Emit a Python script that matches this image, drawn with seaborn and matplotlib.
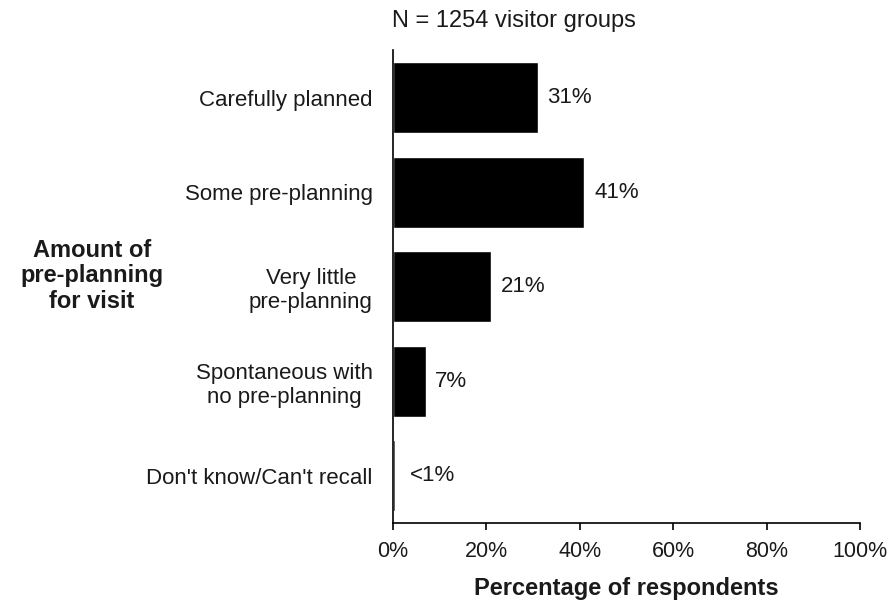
import matplotlib
matplotlib.use("Agg")
import matplotlib.pyplot as plt
import seaborn as sns
import pandas as pd

categories = ["Carefully planned", "Some pre-planning", "Very little\npre-planning",
              "Spontaneous with\nno pre-planning", "Don't know/Can't recall"]
values = [31, 41, 21, 7, 0.4]
value_labels = ["31%", "41%", "21%", "7%", "<1%"]
xticks = [0, 20, 40, 60, 80, 100]
xtick_labels = ["0%", "20%", "40%", "60%", "80%", "100%"]

sns.set_theme(style="white")
plt.rcParams['font.family'] = ['Liberation Sans', 'DejaVu Sans']

df = pd.DataFrame({"cat": categories, "val": values})

fig = plt.figure(figsize=(8.93, 6.06), dpi=100)
ax = fig.add_axes([0.440, 0.137, 0.523, 0.780])
sns.barplot(data=df, y="cat", x="val", orient="h", color="black", width=0.75,
            saturation=1, ax=ax)

ax.set_xlim(0, 100)
ax.set_xticks(xticks)
ax.set_xticklabels(xtick_labels, fontsize=15.5, color="#1a1a1a")
ax.tick_params(axis="x", direction="out", length=5, width=1.2, color="black", pad=8, bottom=True)
ax.tick_params(axis="y", length=0, pad=14.5, labelsize=16, labelcolor="#1a1a1a")
ax.set_ylabel("")
ax.set_xlabel("Percentage of respondents", fontsize=17, fontweight="bold", labelpad=11,
              color="#1a1a1a")

for s in ["top", "right"]:
    ax.spines[s].set_visible(False)
for s in ["left", "bottom"]:
    ax.spines[s].set_color("black")
    ax.spines[s].set_linewidth(1.2)

for i, (v, t) in enumerate(zip(values, value_labels)):
    ax.annotate(t, xy=(v, i), xytext=(7 if v > 1 else 11, 0), textcoords="offset points",
                va="center", ha="left", fontsize=16, color="#1a1a1a")

fig.text(0.439, 0.966, "N = 1254 visitor groups", fontsize=17, ha="left", va="center",
         color="#1a1a1a")
fig.text(0.103, 0.545, "Amount of\npre-planning\nfor visit", fontsize=17, fontweight="bold",
         ha="center", va="center", linespacing=1.15, color="#1a1a1a")

for lbl in ax.get_yticklabels():
    lbl.set_multialignment("center")
    lbl.set_horizontalalignment("right")

fig.savefig("out.png", dpi=100)
